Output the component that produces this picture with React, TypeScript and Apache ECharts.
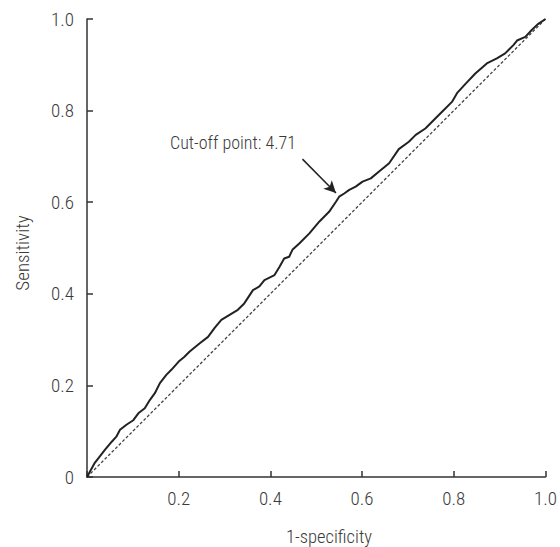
import React, { useEffect, useRef } from "react";
import * as echarts from "echarts";

// ROC curve: 1-specificity (x) and sensitivity (y)
const fpr = [
  0, 0.017, 0.039, 0.054, 0.064, 0.072, 0.086, 0.101, 0.112, 0.126, 0.137, 0.148, 0.159, 0.173, 0.184,
  0.2, 0.212, 0.224, 0.246, 0.264, 0.278, 0.293, 0.311, 0.329, 0.343, 0.362, 0.376, 0.387, 0.409, 0.42,
  0.43, 0.441, 0.448, 0.463, 0.485, 0.507, 0.528, 0.543, 0.55, 0.561, 0.572, 0.586, 0.601, 0.619, 0.637,
  0.659, 0.68, 0.702, 0.717, 0.738, 0.757, 0.775, 0.796, 0.807, 0.826, 0.847, 0.872, 0.894, 0.912, 0.93,
  0.938, 0.956, 0.97, 0.985, 1.0,
];
const tpr = [
  0, 0.031, 0.059, 0.077, 0.088, 0.103, 0.114, 0.124, 0.139, 0.15, 0.168, 0.183, 0.205, 0.223, 0.234,
  0.252, 0.262, 0.274, 0.292, 0.306, 0.325, 0.343, 0.354, 0.365, 0.379, 0.408, 0.416, 0.43, 0.441, 0.459,
  0.477, 0.481, 0.496, 0.51, 0.532, 0.558, 0.579, 0.601, 0.612, 0.619, 0.627, 0.634, 0.645, 0.652, 0.667,
  0.685, 0.716, 0.732, 0.747, 0.761, 0.78, 0.798, 0.819, 0.838, 0.859, 0.881, 0.903, 0.914, 0.925, 0.943,
  0.953, 0.961, 0.976, 0.99, 1.0,
];
const diagonal = [0, 1];
const xTicks = [0.2, 0.4, 0.6, 0.8, 1.0];
const yTicks = [0, 0.2, 0.4, 0.6, 0.8, 1.0];
const cutoffLabel = "Cut-off point: 4.71";
const cutoffArrowFrom = [0.47, 0.694];
const cutoffArrowTo = [0.543, 0.62];

const FONT = "'Liberation Sans Narrow', 'Roboto Condensed', 'Liberation Sans', sans-serif";
const TEXT = "#3a3a3a";

export default function App() {
  const ref = useRef<HTMLDivElement>(null);
  useEffect(() => {
    if (!ref.current) return;
    const chart = echarts.init(ref.current, undefined, { renderer: "svg" });
    const axisCommon = {
      type: "value" as const,
      min: 0,
      max: 1,
      interval: 0.2,
      splitLine: { show: false },
      axisLine: { show: true, lineStyle: { color: "#333", width: 1.5 } },
      axisTick: { show: true, inside: true, length: 6, lineStyle: { color: "#333", width: 1.5 } },
    };
    chart.setOption({
      animation: false,
      grid: { left: 87, top: 19, right: 13, bottom: 70 },
      xAxis: {
        ...axisCommon,
        axisLabel: {
          margin: 12,
          fontFamily: FONT,
          fontSize: 19,
          fontWeight: 300,
          color: TEXT,
          formatter: (v: number) => (xTicks.some((t) => Math.abs(t - v) < 1e-9) ? v.toFixed(1) : ""),
        },
      },
      yAxis: {
        ...axisCommon,
        axisLabel: {
          margin: 13,
          fontFamily: FONT,
          fontSize: 19,
          fontWeight: 300,
          color: TEXT,
          formatter: (v: number) =>
            yTicks.some((t) => Math.abs(t - v) < 1e-9) ? (v === 0 ? "0" : v.toFixed(1)) : "",
        },
      },
      series: [
        {
          type: "line",
          data: diagonal.map((d) => [d, d]),
          symbol: "none",
          lineStyle: { color: "#444", width: 1.3, type: [3, 2] },
          silent: true,
          z: 2,
        },
        {
          type: "line",
          data: fpr.map((x, i) => [x, tpr[i]]),
          symbol: "none",
          lineStyle: { color: "#222", width: 2 },
          silent: true,
          z: 3,
          markLine: {
            silent: true,
            symbol: ["none", "arrow"],
            symbolSize: [9, 12],
            label: { show: false },
            lineStyle: { color: "#222", width: 1.5, type: "solid" },
            data: [[{ coord: cutoffArrowFrom }, { coord: cutoffArrowTo }]],
          },
        },
      ],
      graphic: [
        {
          type: "text",
          left: 170,
          top: 133,
          style: { text: cutoffLabel, fontFamily: FONT, fontSize: 18, fontWeight: 300, fill: TEXT },
        },
        {
          type: "text",
          x: 329,
          y: 537,
          style: {
            text: "1-specificity",
            fontFamily: FONT,
            fontSize: 18.5,
            fontWeight: 300,
            fill: TEXT,
            align: "center",
            verticalAlign: "middle",
          },
        },
        {
          type: "text",
          x: 22,
          y: 253,
          rotation: Math.PI / 2,
          style: {
            text: "Sensitivity",
            fontFamily: FONT,
            fontSize: 19,
            fontWeight: 300,
            fill: TEXT,
            align: "center",
            verticalAlign: "middle",
          },
        },
      ],
    });
    return () => chart.dispose();
  }, []);
  return <div ref={ref} style={{ width: 560, height: 547, position: "absolute", left: 0, top: 0 }} />;
}
